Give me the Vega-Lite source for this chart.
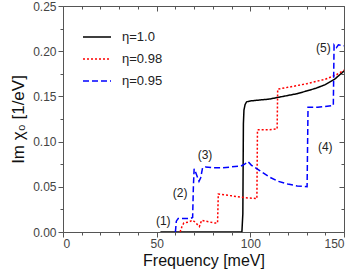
{
  "$schema": "https://vega.github.io/schema/vega-lite/v6.json",
  "width": 281,
  "height": 226,
  "autosize": "none",
  "padding": {"left": 63, "top": 6, "right": 10, "bottom": 39},
  "config": {
    "view": {"stroke": null},
    "font": "Liberation Sans",
    "axis": {"grid": false, "domainColor": "#555", "tickColor": "#555", "labelColor": "#444", "labelFont": "Liberation Sans", "labelFontSize": 12, "titleFont": "Liberation Sans", "titleFontWeight": "normal", "titleColor": "#111"}
  },
  "datasets": {
    "curves": [
      {"f": 52, "v": 0, "s": "η=1.0"},
      {"f": 95.5, "v": 0, "s": "η=1.0"},
      {"f": 96, "v": 0.02, "s": "η=1.0"},
      {"f": 96.3, "v": 0.12, "s": "η=1.0"},
      {"f": 96.6, "v": 0.135, "s": "η=1.0"},
      {"f": 97.2, "v": 0.141, "s": "η=1.0"},
      {"f": 98, "v": 0.144, "s": "η=1.0"},
      {"f": 100, "v": 0.145, "s": "η=1.0"},
      {"f": 105, "v": 0.146, "s": "η=1.0"},
      {"f": 110, "v": 0.147, "s": "η=1.0"},
      {"f": 115, "v": 0.149, "s": "η=1.0"},
      {"f": 120, "v": 0.151, "s": "η=1.0"},
      {"f": 125, "v": 0.153, "s": "η=1.0"},
      {"f": 130, "v": 0.156, "s": "η=1.0"},
      {"f": 135, "v": 0.159, "s": "η=1.0"},
      {"f": 140, "v": 0.163, "s": "η=1.0"},
      {"f": 145, "v": 0.169, "s": "η=1.0"},
      {"f": 150, "v": 0.178, "s": "η=1.0"},

      {"f": 62.5, "v": 0, "s": "η=0.98"},
      {"f": 63.5, "v": 0.006, "s": "η=0.98"},
      {"f": 64.5, "v": 0.010, "s": "η=0.98"},
      {"f": 67, "v": 0.011, "s": "η=0.98"},
      {"f": 69.2, "v": 0.013, "s": "η=0.98"},
      {"f": 70.5, "v": 0.011, "s": "η=0.98"},
      {"f": 72.8, "v": 0.006, "s": "η=0.98"},
      {"f": 74, "v": 0.013, "s": "η=0.98"},
      {"f": 76, "v": 0.012, "s": "η=0.98"},
      {"f": 81, "v": 0.010, "s": "η=0.98"},
      {"f": 82.5, "v": 0.010, "s": "η=0.98"},
      {"f": 82.9, "v": 0.042, "s": "η=0.98"},
      {"f": 90, "v": 0.040, "s": "η=0.98"},
      {"f": 97, "v": 0.038, "s": "η=0.98"},
      {"f": 103.5, "v": 0.037, "s": "η=0.98"},
      {"f": 103.8, "v": 0.113, "s": "η=0.98"},
      {"f": 110, "v": 0.113, "s": "η=0.98"},
      {"f": 114.3, "v": 0.114, "s": "η=0.98"},
      {"f": 114.6, "v": 0.158, "s": "η=0.98"},
      {"f": 120, "v": 0.160, "s": "η=0.98"},
      {"f": 130, "v": 0.164, "s": "η=0.98"},
      {"f": 140, "v": 0.169, "s": "η=0.98"},
      {"f": 146, "v": 0.174, "s": "η=0.98"},
      {"f": 150, "v": 0.179, "s": "η=0.98"},

      {"f": 60, "v": 0, "s": "η=0.95"},
      {"f": 60.5, "v": 0.012, "s": "η=0.95"},
      {"f": 61.5, "v": 0.015, "s": "η=0.95"},
      {"f": 68, "v": 0.015, "s": "η=0.95"},
      {"f": 69.2, "v": 0.016, "s": "η=0.95"},
      {"f": 69.6, "v": 0.05, "s": "η=0.95"},
      {"f": 70, "v": 0.070, "s": "η=0.95"},
      {"f": 71, "v": 0.065, "s": "η=0.95"},
      {"f": 72.6, "v": 0.056, "s": "η=0.95"},
      {"f": 73.5, "v": 0.060, "s": "η=0.95"},
      {"f": 74.5, "v": 0.071, "s": "η=0.95"},
      {"f": 76, "v": 0.072, "s": "η=0.95"},
      {"f": 80, "v": 0.071, "s": "η=0.95"},
      {"f": 85, "v": 0.071, "s": "η=0.95"},
      {"f": 90, "v": 0.072, "s": "η=0.95"},
      {"f": 95, "v": 0.073, "s": "η=0.95"},
      {"f": 97, "v": 0.075, "s": "η=0.95"},
      {"f": 98.8, "v": 0.078, "s": "η=0.95"},
      {"f": 100.5, "v": 0.074, "s": "η=0.95"},
      {"f": 105, "v": 0.068, "s": "η=0.95"},
      {"f": 110, "v": 0.061, "s": "η=0.95"},
      {"f": 115, "v": 0.056, "s": "η=0.95"},
      {"f": 120, "v": 0.053, "s": "η=0.95"},
      {"f": 125, "v": 0.051, "s": "η=0.95"},
      {"f": 130.3, "v": 0.050, "s": "η=0.95"},
      {"f": 130.8, "v": 0.138, "s": "η=0.95"},
      {"f": 136, "v": 0.138, "s": "η=0.95"},
      {"f": 144.3, "v": 0.140, "s": "η=0.95"},
      {"f": 144.7, "v": 0.207, "s": "η=0.95"},
      {"f": 146, "v": 0.204, "s": "η=0.95"},
      {"f": 147, "v": 0.207, "s": "η=0.95"},
      {"f": 150, "v": 0.206, "s": "η=0.95"}
    ],
    "notes": [
      {"f": 53.5, "v": 0.012, "t": "(1)"},
      {"f": 62.5, "v": 0.043, "t": "(2)"},
      {"f": 75.8, "v": 0.085, "t": "(3)"},
      {"f": 140, "v": 0.094, "t": "(4)"},
      {"f": 139, "v": 0.203, "t": "(5)"}
    ]
  },
  "layer": [
    {
      "data": {"name": "curves"},
      "mark": {"type": "line", "strokeWidth": 1.5, "clip": true},
      "encoding": {
        "x": {"field": "f", "type": "quantitative", "scale": {"domain": [0, 150], "nice": false},
          "axis": {"title": "Frequency [meV]", "titleFontSize": 16, "titlePadding": 3, "values": [0,10,20,30,40,50,60,70,80,90,100,110,120,130,140,150], "labelExpr": "datum.value % 50 === 0 ? datum.label : ''", "tickSize": {"condition": {"test": "datum.value % 50 === 0", "value": 5}, "value": 3}, "labelPadding": 1}},
        "y": {"field": "v", "type": "quantitative", "scale": {"domain": [0, 0.25], "nice": false},
          "axis": {"title": "Im χ₀ [1/eV]", "titleFontSize": 17, "titlePadding": 5, "format": ".2f", "values": [0,0.025,0.05,0.075,0.1,0.125,0.15,0.175,0.2,0.225,0.25], "labelExpr": "abs(datum.value*20 - round(datum.value*20)) < 1e-6 ? datum.label : ''", "tickSize": {"condition": {"test": "abs(datum.value*20 - round(datum.value*20)) < 1e-6", "value": 5}, "value": 3}, "labelPadding": 2}},
        "color": {"field": "s", "type": "nominal", "sort": ["η=1.0", "η=0.98", "η=0.95"], "scale": {"domain": ["η=1.0", "η=0.98", "η=0.95"], "range": ["#000000", "#ff0000", "#0000ff"]},
          "legend": {"title": null, "orient": "none", "legendX": 19, "legendY": 16, "symbolType": "stroke", "symbolSize": 784, "symbolStrokeWidth": 1.5, "labelFontSize": 13, "labelColor": "#222", "labelOffset": 10, "rowPadding": -9}},
        "strokeDash": {"field": "s", "type": "nominal", "sort": ["η=1.0", "η=0.98", "η=0.95"], "scale": {"domain": ["η=1.0", "η=0.98", "η=0.95"], "range": [[1, 0], [2, 2], [6, 3]]}, "legend": null}
      }
    },
    {
      "data": {"name": "curves"},
      "mark": {"type": "line", "strokeOpacity": 0},
      "encoding": {
        "x": {"field": "f", "type": "quantitative", "scale": {"domain": [0, 150], "nice": false},
          "axis": {"orient": "top", "title": null, "labels": false, "values": [0,10,20,30,40,50,60,70,80,90,100,110,120,130,140,150], "tickSize": {"condition": {"test": "datum.value % 50 === 0", "value": -5}, "value": -3}}},
        "y": {"field": "v", "type": "quantitative", "scale": {"domain": [0, 0.25], "nice": false},
          "axis": {"orient": "right", "title": null, "labels": false, "values": [0,0.025,0.05,0.075,0.1,0.125,0.15,0.175,0.2,0.225,0.25], "tickSize": {"condition": {"test": "abs(datum.value*20 - round(datum.value*20)) < 1e-6", "value": -5}, "value": -3}}},
        "detail": {"field": "s"}
      }
    },
    {
      "data": {"name": "notes"},
      "mark": {"type": "text", "fontSize": 12, "color": "#222", "font": "Liberation Sans"},
      "encoding": {
        "x": {"field": "f", "type": "quantitative", "axis": null},
        "y": {"field": "v", "type": "quantitative", "axis": null},
        "text": {"field": "t"}
      }
    }
  ],
  "resolve": {"axis": {"x": "independent", "y": "independent"}}
}
